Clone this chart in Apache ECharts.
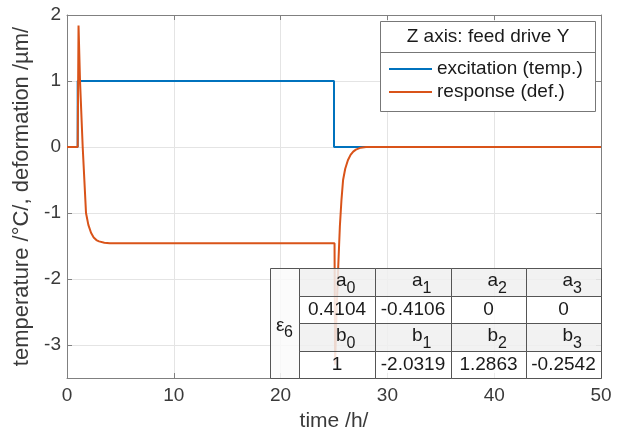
<!DOCTYPE html>
<html><head><meta charset="utf-8">
<script src="https://cdn.jsdelivr.net/npm/echarts@6/dist/echarts.min.js"></script>
<style>html,body{margin:0;padding:0;background:#fff}#c{width:617px;height:432px}</style>
</head><body><div id="c"></div>
<script>
// ---- data ----
const excitationT = [0, 1.0, 1.0, 25.0, 25.0, 50];
const excitationY = [0, 0, 1, 1, 0, 0];
const responseT = [0, 1.0, 1.08, 1.22, 1.47, 1.78, 2.0, 2.25, 2.5, 2.75, 3.0, 3.5, 4.0, 25.05, 25.1, 25.25, 25.4, 25.55, 25.7, 25.85, 26.05, 26.3, 26.55, 26.8, 27.05, 27.5, 28.0, 50];
const responseY = [0, 0, 1.84, 1.0, 0, -1.0, -1.18, -1.3, -1.37, -1.41, -1.43, -1.45, -1.46, -1.46, -3.3, -2.45, -1.8, -1.2, -0.8, -0.5, -0.33, -0.2, -0.12, -0.07, -0.04, -0.01, 0, 0];
const seriesNames = ['excitation (temp.)', 'response (def.)'];
const legendTitle = 'Z axis: feed drive Y';
const xTitle = 'time /h/';
const yTitle = 'temperature /°C/, deformation /µm/';
const tableLabel = ['ε', '6'];
const aHeads = ['a', 'a', 'a', 'a'];
const bHeads = ['b', 'b', 'b', 'b'];
const coefIdx = ['0', '1', '2', '3'];
const aValues = ['0.4104', '-0.4106', '0', '0'];
const bValues = ['1', '-2.0319', '1.2863', '-0.2542'];

const FONT = '"Liberation Sans", Arial, sans-serif';
const TXT = '#3a3a3a';
const zip = (a, b) => a.map((v, i) => [v, b[i]]);

// ---- table layout ----
const cols = [270, 299, 375, 451, 526, 601];
const rows = [268, 296, 323, 351, 378];
const g = [];
function cell(x0, y0, x1, y1, fill) {
  g.push({type: 'rect', z: 10, shape: {x: x0 + 0.5, y: y0 + 0.5, width: x1 - x0, height: y1 - y0},
    style: {fill: fill, stroke: '#555', lineWidth: 1}});
}
function txt(x, y, s, size, align, z) {
  g.push({type: 'text', z: z || 11, x: x, y: y,
    style: {text: s, fontSize: size, fontFamily: FONT, fill: '#1a1a1a', align: align || 'center', verticalAlign: 'middle'}});
}
cell(cols[0], rows[0], cols[1], rows[4], 'rgba(250,250,250,0.85)');
for (let r = 0; r < 4; r++) {
  for (let c = 1; c < 5; c++) {
    const head = (r % 2 === 0);
    cell(cols[c], rows[r], cols[c + 1], rows[r + 1], head ? 'rgba(240,240,240,0.85)' : 'rgba(255,255,255,0.85)');
    const cx = (cols[c] + cols[c + 1]) / 2, cy = (rows[r] + rows[r + 1]) / 2;
    if (head) {
      const L = r === 0 ? aHeads[c - 1] : bHeads[c - 1];
      txt(cx - 1, cy - 1, L, 19, 'left');
      txt(cx + 9.5, cy + 7, coefIdx[c - 1], 16, 'left');
    } else {
      txt(cx, cy, r === 1 ? aValues[c - 1] : bValues[c - 1], 19, 'center');
    }
  }
}
txt(276, 326, tableLabel[0], 19, 'left');
txt(284, 333, tableLabel[1], 16, 'left');

// ---- legend box ----
g.push({type: 'rect', z: 3, shape: {x: 380.5, y: 21.5, width: 215, height: 90},
  style: {fill: '#fff', stroke: '#777', lineWidth: 1}});
g.push({type: 'line', z: 3, shape: {x1: 380.5, y1: 52.5, x2: 595.5, y2: 52.5},
  style: {stroke: '#777', lineWidth: 1}});
g.push({type: 'text', z: 4, x: 488, y: 37,
  style: {text: legendTitle, fontSize: 19, fontFamily: FONT, fill: '#1a1a1a', align: 'center', verticalAlign: 'middle'}});

const axisCommon = {
  min: 0, max: 50, interval: 10, type: 'value',
  axisLine: {show: true, onZero: false, lineStyle: {color: '#808080', width: 1}},
  axisTick: {show: true, inside: true, length: 5, lineStyle: {color: '#808080'}},
};
const yCommon = {
  type: 'value', min: -3.5, max: 2, minInterval: 1, maxInterval: 1,
  axisLine: {show: true, onZero: false, lineStyle: {color: '#808080', width: 1}},
  axisTick: {show: true, inside: true, length: 5, lineStyle: {color: '#808080'}},
};

const chart = echarts.init(document.getElementById('c'), null, {renderer: 'canvas'});
chart.setOption({
  animation: false,
  backgroundColor: '#fff',
  grid: {left: 67, right: 16, top: 15, bottom: 54, containLabel: false, outerBoundsMode: 'none'},
  xAxis: [
    Object.assign({}, axisCommon, {
      position: 'bottom', name: xTitle, nameLocation: 'middle', nameGap: 33,
      nameTextStyle: {fontSize: 21, fontFamily: FONT, color: TXT},
      axisLabel: {show: true, margin: 8, fontSize: 19, fontFamily: FONT, color: TXT},
      splitLine: {show: true, lineStyle: {color: '#e4e4e4', width: 1}}
    }),
    Object.assign({}, axisCommon, {
      position: 'top', axisLabel: {show: false}, splitLine: {show: false}
    })
  ],
  yAxis: [
    Object.assign({}, yCommon, {
      position: 'left', name: yTitle, nameLocation: 'middle', nameGap: 31,
      nameTextStyle: {fontSize: 22, fontFamily: FONT, color: TXT},
      axisLabel: {show: true, margin: 6, fontSize: 19, fontFamily: FONT, color: TXT,
        formatter: v => Math.abs(v - Math.round(v)) < 1e-9 ? String(Math.round(v)) : ''},
      splitLine: {show: true, lineStyle: {color: '#e4e4e4', width: 1}}
    }),
    Object.assign({}, yCommon, {
      position: 'right', axisLabel: {show: false}, splitLine: {show: false}
    })
  ],
  legend: {
    show: true, orient: 'vertical', left: 389, top: 59, padding: 0,
    itemWidth: 43, itemHeight: 2, itemGap: 3, icon: 'rect', z: 5,
    textStyle: {fontSize: 19, fontFamily: FONT, color: '#1a1a1a', lineHeight: 20},
    data: seriesNames
  },
  series: [
    {name: seriesNames[0], type: 'line', data: zip(excitationT, excitationY), showSymbol: false,
      symbol: 'none', color: '#0072BD', lineStyle: {width: 2, color: '#0072BD'}, z: 2},
    {name: seriesNames[1], type: 'line', data: zip(responseT, responseY), showSymbol: false,
      symbol: 'none', color: '#D95319', lineStyle: {width: 2, color: '#D95319'}, z: 2.5}
  ],
  graphic: {elements: g}
});
</script></body></html>
